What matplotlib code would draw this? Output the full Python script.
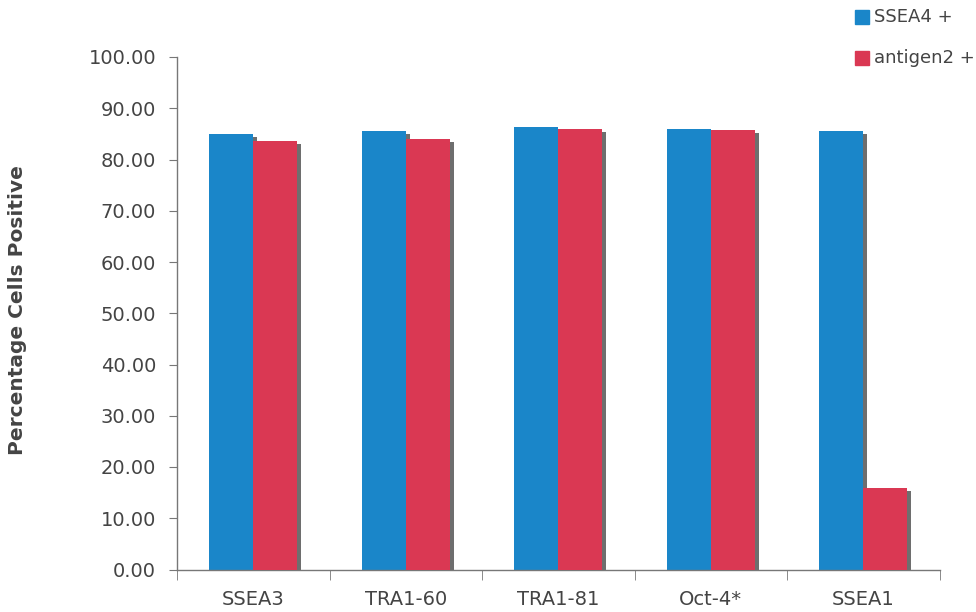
import matplotlib
matplotlib.use("Agg")
import matplotlib.pyplot as plt
from matplotlib.patches import Rectangle
import numpy as np

categories = ["SSEA3", "TRA1-60", "TRA1-81", "Oct-4*", "SSEA1"]
ssea4_pos = [85.0, 85.5, 86.4, 86.0, 85.6]
antigen2_pos = [83.7, 84.0, 86.0, 85.8, 15.9]
series_names = ["SSEA4 +", "antigen2 +"]
yticks = np.arange(0, 101, 10)

BLUE = "#1a86c9"
RED = "#da3853"
SHADOW = "#6e6e6e"
TEXT = "#444444"
AXIS = "#777777"

plt.rcParams["font.family"] = ["DejaVu Sans"]

fig = plt.figure(figsize=(9.76, 6.12), dpi=100)
ax = fig.add_axes([177 / 976, 42.5 / 612, 762.5 / 976, 512.5 / 612])

x = np.arange(len(categories))
w = 0.29
dx = 4 / 152.5   # shadow offset (x, data units)
dy = 0.6          # shadow drop (y, data units)

for xs, vals in ((x - w / 2, ssea4_pos), (x + w / 2, antigen2_pos)):
    ax.bar(xs + dx, np.array(vals) - dy, width=w, color=SHADOW, zorder=1)
ax.bar(x - w / 2, ssea4_pos, width=w, color=BLUE, zorder=2)
ax.bar(x + w / 2, antigen2_pos, width=w, color=RED, zorder=3)

ax.set_xlim(-0.5, len(categories) - 0.5)
ax.set_ylim(0, 100)
ax.set_yticks(yticks)
ax.set_yticklabels([f"{v:.2f}" for v in yticks], fontsize=14, color=TEXT)

ax.set_xticks(x)
ax.set_xticklabels(categories, fontsize=14, color=TEXT)
ax.tick_params(axis="x", which="major", length=0, pad=15)
ax.set_xticks(np.arange(-0.5, len(categories) + 0.5, 1), minor=True)
ax.tick_params(axis="x", which="minor", length=7, color=AXIS, direction="out")
ax.tick_params(axis="y", length=6, color=AXIS, direction="out", pad=9)

for s in ("top", "right"):
    ax.spines[s].set_visible(False)
for s in ("left", "bottom"):
    ax.spines[s].set_color(AXIS)
    ax.spines[s].set_linewidth(1.0)

fig.text(18 / 976, 1 - 310 / 612, "Percentage Cells Positive", rotation=90,
         ha="center", va="center", fontsize=14.5, fontweight="bold", color=TEXT)

# legend
for i, (name, col) in enumerate(zip(series_names, (BLUE, RED))):
    yc = 17 + i * 41
    fig.patches.append(Rectangle((855 / 976, 1 - (yc + 7) / 612), 14 / 976, 14 / 612,
                                 transform=fig.transFigure, color=col))
    fig.text(874 / 976, 1 - yc / 612, name, ha="left", va="center",
             fontsize=13, color=TEXT)

fig.savefig("out.png", dpi=100)
